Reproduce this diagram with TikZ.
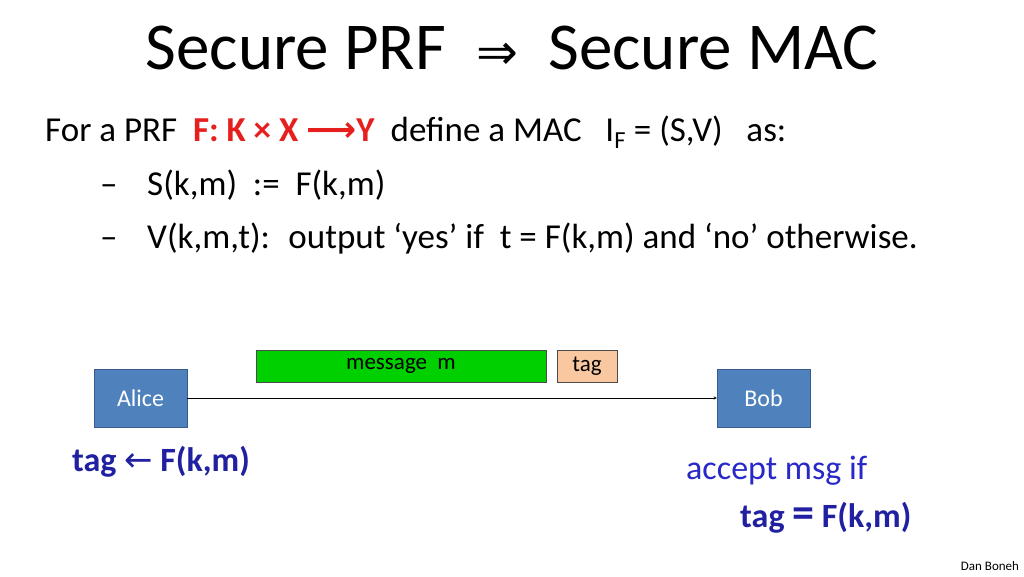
\documentclass[tikz,border=0pt]{standalone}
\usepackage{fontspec}
\setmainfont{Carlito}
\newfontfamily\symfont{DejaVu Sans}
\usetikzlibrary{positioning}
\definecolor{prfred}{RGB}{230,30,30}
\definecolor{navy}{RGB}{32,32,160}
\definecolor{linkblue}{RGB}{40,40,200}
\definecolor{boxblue}{RGB}{79,129,189}
\definecolor{boxedge}{RGB}{56,93,138}
\definecolor{msggreen}{RGB}{0,208,0}
\definecolor{tagfill}{RGB}{250,200,160}
\tikzset{
  party/.style={draw=boxedge, fill=boxblue, text=white, minimum width=93pt, minimum height=58pt, font=\fontsize{24}{26}\selectfont},
  msgbox/.style={draw=black!70, fill=msggreen, minimum width=290pt, minimum height=32pt, font=\fontsize{23}{25}\selectfont},
  tagbox/.style={draw=black!70, fill=tagfill, minimum width=60pt, minimum height=32pt, font=\fontsize{23}{25}\selectfont},
  body/.style={anchor=base west, inner sep=0pt, font=\fontsize{35}{40}\selectfont},
}
\begin{document}
\begin{tikzpicture}[x=1pt,y=-1pt,>=stealth]
  \useasboundingbox (0,0) rectangle (1024,576);
  \node[font=\fontsize{67}{72}\selectfont] (title) at (512,48) {Secure PRF \ {\symfont\fontsize{50}{55}\selectfont ⇒} \ Secure MAC};

  \node[body] (def) at (45,141) {For a PRF \ \textcolor{prfred}{\textbf{F: K × X {\symfont ⟶}Y}} \ define a MAC \ \ I\textsubscript{F} = (S,V) \ \ as:};
  \node[body] (dash1) at (100,195) {–};
  \node[body] (sign)  at (147,195) {S(k,m) \ := \ F(k,m)};
  \node[body] (dash2) at (100,248) {–};
  \node[body] (ver)   at (147,248) {V(k,m,t): \ output `yes’ if \ t = F(k,m) and `no’ otherwise.};

  \node[msgbox] (msg) at (401,366) {message \ m};
  \node[tagbox] (tag) at (587,366) {tag};
  \node[party] (alice) at (140.5,398) {Alice};
  \node[party] (bob)   at (763.5,398) {Bob};
  \draw[->] (alice) -- (bob);

  \node[text=navy, font=\fontsize{34}{38}\selectfont\bfseries] (gen) at (161,462) {tag {\symfont\mdseries ←} F(k,m)};
  \node[text=linkblue, font=\fontsize{34}{38}\selectfont, anchor=west, inner sep=0pt] (acc) at (686,471) {accept msg if};
  \node[text=navy, font=\fontsize{34}{38}\selectfont\bfseries, anchor=west, inner sep=0pt] (chk) at (740,518) {tag {\fontsize{44}{44}\selectfont =} F(k,m)};

  \node[font=\fontsize{13}{15}\selectfont] (name) at (990,566) {Dan Boneh};
\end{tikzpicture}
\end{document}
